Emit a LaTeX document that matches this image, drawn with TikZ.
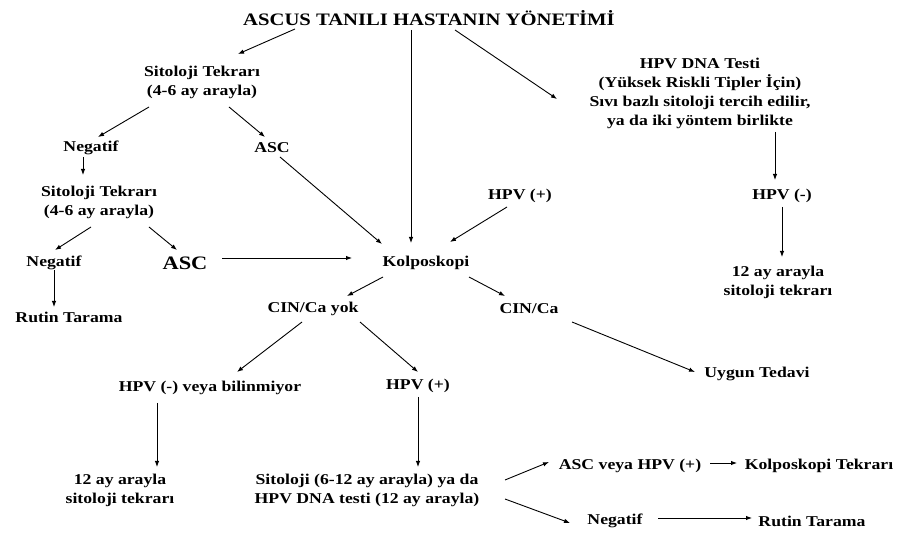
\documentclass[tikz,border=0pt]{standalone}
\usepackage{fontspec}
\setmainfont{Liberation Serif}[FakeStretch=1.18]
\usetikzlibrary{arrows.meta}

\begin{document}
\begin{tikzpicture}[x=1pt, y=-1pt,
    every node/.style={align=center, inner sep=1pt, font=\bfseries\fontsize{15}{19}\selectfont},
    arr/.style={-{Latex[length=6pt,width=4.5pt]}, line width=0.9pt}]
    \useasboundingbox (0,0) rectangle (900,534);
    % nodes of the tree
    \node (title) at (429,18) {\fontsize{17.5}{20}\selectfont ASCUS TANILI HASTANIN YÖNETİMİ};
    \node (sit1) at (202,82) {Sitoloji Tekrarı\\(4-6 ay arayla)};
    \node (neg1) at (91,148) {Negatif};
    \node (asc1) at (272,148) {ASC};
    \node (sit2) at (99,202) {Sitoloji Tekrarı\\(4-6 ay arayla)};
    \node (neg2) at (54,263) {Negatif};
    \node (asc2) at (185,263) {\fontsize{19}{22}\selectfont ASC};
    \node (rutin1) at (69,317) {Rutin Tarama};
    \node (kolp) at (426,263) {Kolposkopi};
    \node (hpvp1) at (520,196) {HPV (+)};
    \node (hpvdna) at (700,93) {\fontsize{15}{17}\selectfont HPV DNA Testi\\(Yüksek Riskli Tipler İçin)\\Sıvı bazlı sitoloji tercih edilir,\\ya da iki yöntem birlikte};
    \node (hpvn) at (782,196) {HPV (-)};
    \node (ay12a) at (778,282) {12 ay arayla\\sitoloji tekrarı};
    \node (cinyok) at (313,309) {CIN/Ca yok};
    \node (cinca) at (529,309) {CIN/Ca};
    \node (uygun) at (757,374) {Uygun Tedavi};
    \node (hpvbil) at (210,388) {HPV (-) veya bilinmiyor};
    \node (hpvp2) at (418,386) {HPV (+)};
    \node (ay12b) at (120,490) {12 ay arayla\\sitoloji tekrarı};
    \node (sit3) at (367,490) {Sitoloji (6-12 ay arayla) ya da\\HPV DNA testi (12 ay arayla)};
    \node (ascveya) at (630,466) {ASC veya HPV (+)};
    \node (kolpt) at (819,466) {Kolposkopi Tekrarı};
    \node (neg3) at (615,521) {Negatif};
    \node (rutin2) at (812,521) {Rutin Tarama};
    % arrows: from node, offset, to node, offset
    \foreach \a/\ax/\ay/\b/\bx/\by in {
        title/-134/11/sit1/36/-28, title/-18/12/kolp/-15/-20, title/26/12/hpvdna/-143/6,
        sit1/-53/25/neg1/7/-11, sit1/27/25/asc1/-7/-11,
        neg1/-8/9/sit2/-16/-27, asc1/8/9/kolp/-44/-19,
        sit2/-8/25/neg2/1/-13, sit2/50/25/asc2/-8/-13,
        asc2/37/-5/kolp/-74/-5, neg2/0/7/rutin1/-15/-10,
        hpvp1/-13/11/kolp/24/-21, hpvdna/75/39/hpvn/-7/-16, hpvn/0/11/ay12a/4/-25,
        kolp/-43/14/cinyok/34/-13, kolp/43/14/cinca/-24/-13, cinca/43/13/uygun/-62/-2,
        cinyok/-11/13/hpvbil/27/-16, cinyok/47/13/hpvp2/0/-14,
        hpvbil/-53/15/ay12b/37/-23, hpvp2/0/11/sit3/51/-23,
        sit3/138/-10/ascveya/-81/-4, sit3/138/9/neg3/-45/2,
        ascveya/80/-3/kolpt/-82/-3, neg3/43/-3/rutin2/-60/-3} {
        \draw[arr] ([shift={(\ax,\ay)}]\a.center) -- ([shift={(\bx,\by)}]\b.center);
    }
\end{tikzpicture}
\end{document}
